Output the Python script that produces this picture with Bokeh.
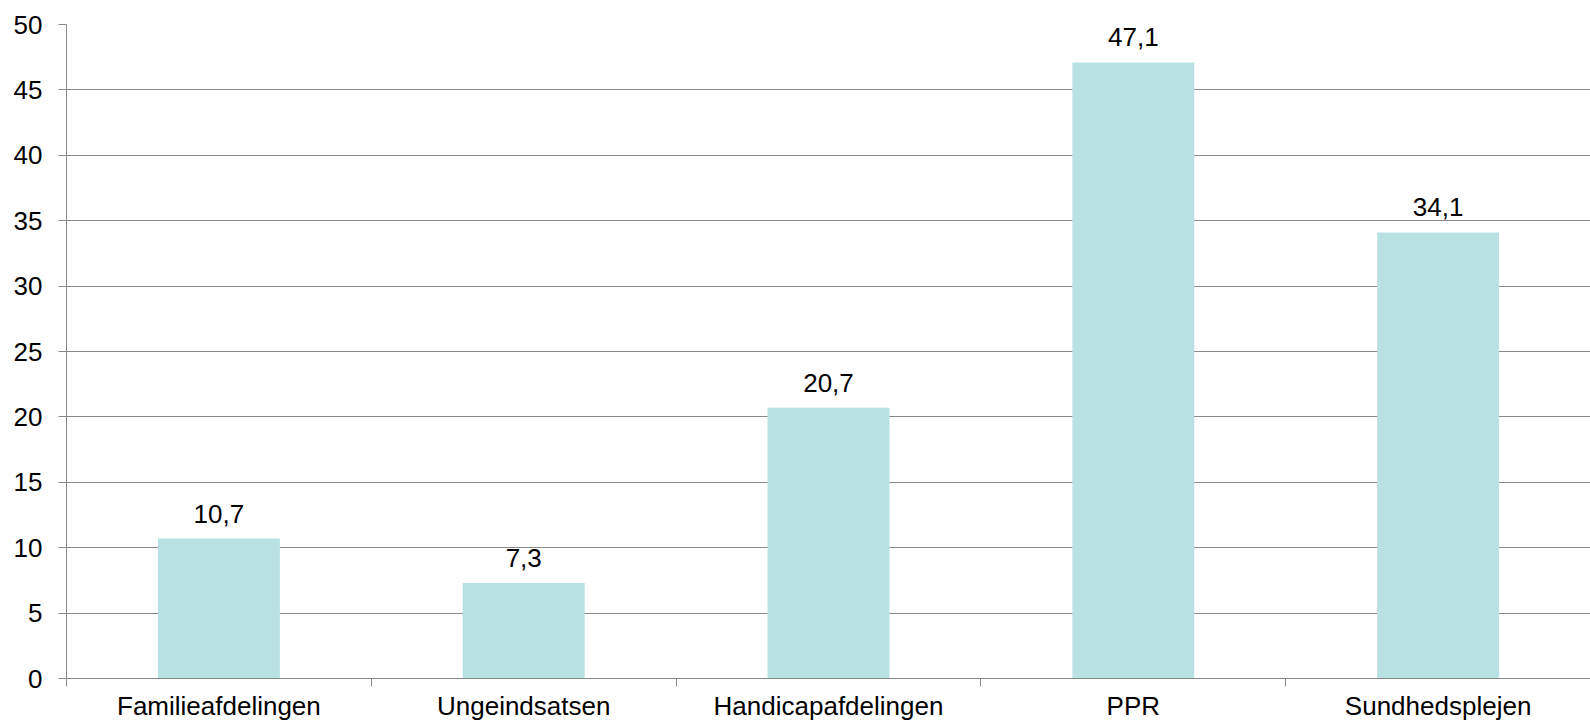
from bokeh.plotting import figure
from bokeh.models import Range1d, FixedTicker, ColumnDataSource, LabelSet
from bokeh.core.properties import value
from bokeh.embed import file_html
from bokeh.resources import INLINE
import numpy as np

categories = ["Familieafdelingen", "Ungeindsatsen", "Handicapafdelingen", "PPR", "Sundhedsplejen"]
values = [10.7, 7.3, 20.7, 47.1, 34.1]
value_labels = ["10,7", "7,3", "20,7", "47,1", "34,1"]
y_ticks = [0, 5, 10, 15, 20, 25, 30, 35, 40, 45, 50]

FONT = "Liberation Sans"
FS = "26px"
GRAY = "#888888"
BAR = "#B9E0E3"

x = (np.arange(len(categories)) + 0.5).tolist()
src = ColumnDataSource(dict(x=x, top=values, label=value_labels))

p = figure(width=1590, height=724, output_backend="svg", toolbar_location=None,
           x_range=Range1d(0, len(categories)), y_range=Range1d(0, 50),
           min_border_left=66, min_border_top=24, min_border_right=0, min_border_bottom=46)
p.background_fill_color = "white"
p.border_fill_color = "white"
p.outline_line_color = None

p.vbar(x="x", top="top", bottom=0, width=0.4, source=src, fill_color=BAR, line_color=None)

labels = LabelSet(x="x", y="top", text="label", source=src, text_align="center",
                  text_baseline="alphabetic", y_offset=16, text_font_size=value(FS),
                  text_font=value(FONT), text_color="#000000")
p.add_layout(labels)

# x axis
xa = p.xaxis[0]
xa.ticker = FixedTicker(ticks=x, minor_ticks=list(range(len(categories) + 1)))
xa.major_label_overrides = {xi: c for xi, c in zip(x, categories)}
xa.major_tick_line_color = None
xa.major_tick_out = 8
xa.major_tick_in = 0
xa.minor_tick_line_color = GRAY
xa.minor_tick_out = 8
xa.minor_tick_in = 0
xa.axis_line_color = GRAY
xa.major_label_standoff = 4
xa.major_label_text_font = FONT
xa.major_label_text_font_size = FS
xa.major_label_text_color = "#000000"

# y axis
ya = p.yaxis[0]
ya.ticker = FixedTicker(ticks=y_ticks)
ya.major_tick_line_color = GRAY
ya.major_tick_out = 8
ya.major_tick_in = 0
ya.minor_tick_line_color = None
ya.axis_line_color = GRAY
ya.major_label_standoff = 16
ya.major_label_text_font = FONT
ya.major_label_text_font_size = FS
ya.major_label_text_color = "#000000"

p.xgrid.visible = False
p.ygrid.ticker = FixedTicker(ticks=y_ticks)
p.ygrid.grid_line_color = GRAY
p.ygrid.grid_line_width = 1

open("out.html", "w").write(file_html(p, INLINE))
